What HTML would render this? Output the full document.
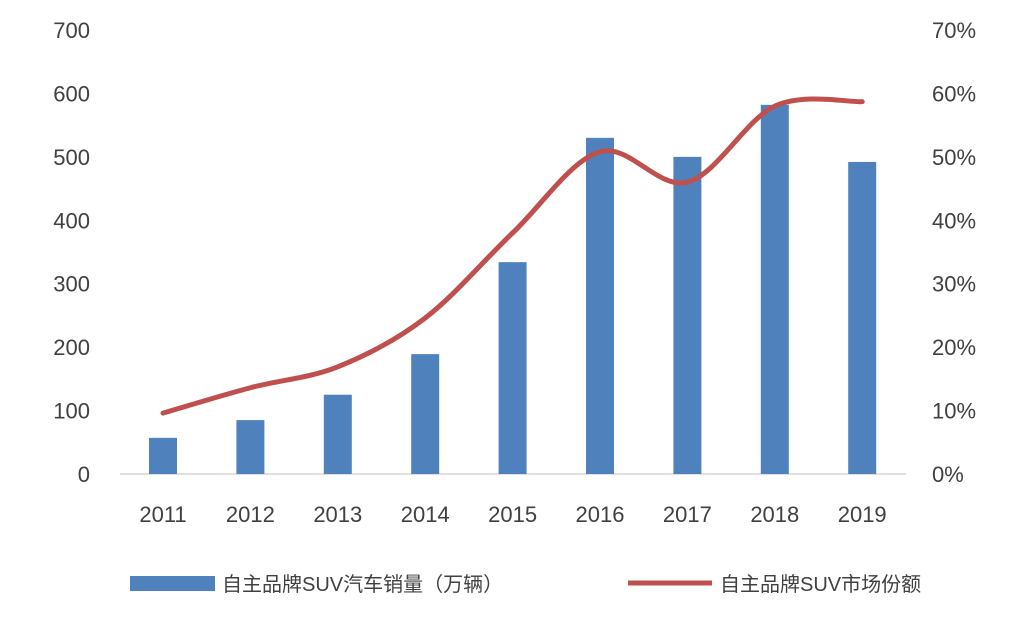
<!DOCTYPE html>
<html><head><meta charset="utf-8">
<style>
html,body{margin:0;padding:0;background:#fff;}
svg text{font-family:"Liberation Sans","Noto Sans CJK SC",sans-serif;fill:#404040;}
</style></head>
<body>
<svg id="chart" width="1027" height="619" viewBox="0 0 1027 619" xmlns="http://www.w3.org/2000/svg">
<g id="axes"></g>
<g id="bars"></g>
<g id="line"></g>
<g id="legend">
  <rect x="130" y="576" width="85" height="15" fill="#4F81BD"/>
  <text x="222" y="591" font-size="20">自主品牌SUV汽车销量（万辆）</text>
  <line x1="628" y1="583" x2="712" y2="583" stroke="#C0504D" stroke-width="5"/>
  <text x="720" y="591" font-size="20">自主品牌SUV市场份额</text>
</g>
</svg>
<script>
const categories=["2011","2012","2013","2014","2015","2016","2017","2018","2019"];
const salesValues=[57,85,125,189,334,530,500,582,492];
const shareValues=[9.6,13.6,16.9,24.6,38,50.8,46,58,58.7];
const leftTicks=[0,100,200,300,400,500,600,700];
const rightTicks=[0,10,20,30,40,50,60,70];
const NS="http://www.w3.org/2000/svg";
const y0=474,yTop=30,xStart=163,xStep=87.4;
function yL(v){return y0-(v/700)*(y0-yTop);}
function yR(v){return y0-(v/70)*(y0-yTop);}
function xC(i){return xStart+i*xStep;}
function mk(tag,attrs,parent){const e=document.createElementNS(NS,tag);for(const k in attrs)e.setAttribute(k,attrs[k]);parent.appendChild(e);return e;}
const axes=document.getElementById('axes');
leftTicks.forEach(t=>{const e=mk('text',{x:90,y:yL(t)+8,'text-anchor':'end','font-size':22},axes);


e.textContent=t;});
rightTicks.forEach(t=>{const e=mk('text',{x:932,y:yR(t)+8,'font-size':22},axes);


e.textContent=t+'%';});
const base=mk('line',{x1:120,x2:906,y1:y0,y2:y0,stroke:'#bfbfbf','stroke-width':1},axes);


categories.forEach((c,i)=>{const e=mk('text',{x:xC(i),y:522,'text-anchor':'middle','font-size':22},axes);


e.textContent=c;});
const bars=document.getElementById('bars');
salesValues.forEach((v,i)=>{const r=mk('rect',{x:xC(i)-14,y:yL(v),width:28,height:y0-yL(v),fill:'#4F81BD'},bars);

});
const pts=shareValues.map((v,i)=>[xC(i),yR(v)]);
let d='M'+pts[0][0]+','+pts[0][1];
for(let i=0;i<pts.length-1;i++){const p0=pts[i-1]||pts[i],p1=pts[i],p2=pts[i+1],p3=pts[i+2]||p2;
const c1=[p1[0]+(p2[0]-p0[0])/6,p1[1]+(p2[1]-p0[1])/6],c2=[p2[0]-(p3[0]-p1[0])/6,p2[1]-(p3[1]-p1[1])/6];
d+=' C'+c1+' '+c2+' '+p2;}
const path=mk('path',{d:d,fill:'none',stroke:'#C0504D','stroke-width':5,'stroke-linecap':'round'},document.getElementById('line'));


</script>
</body></html>
